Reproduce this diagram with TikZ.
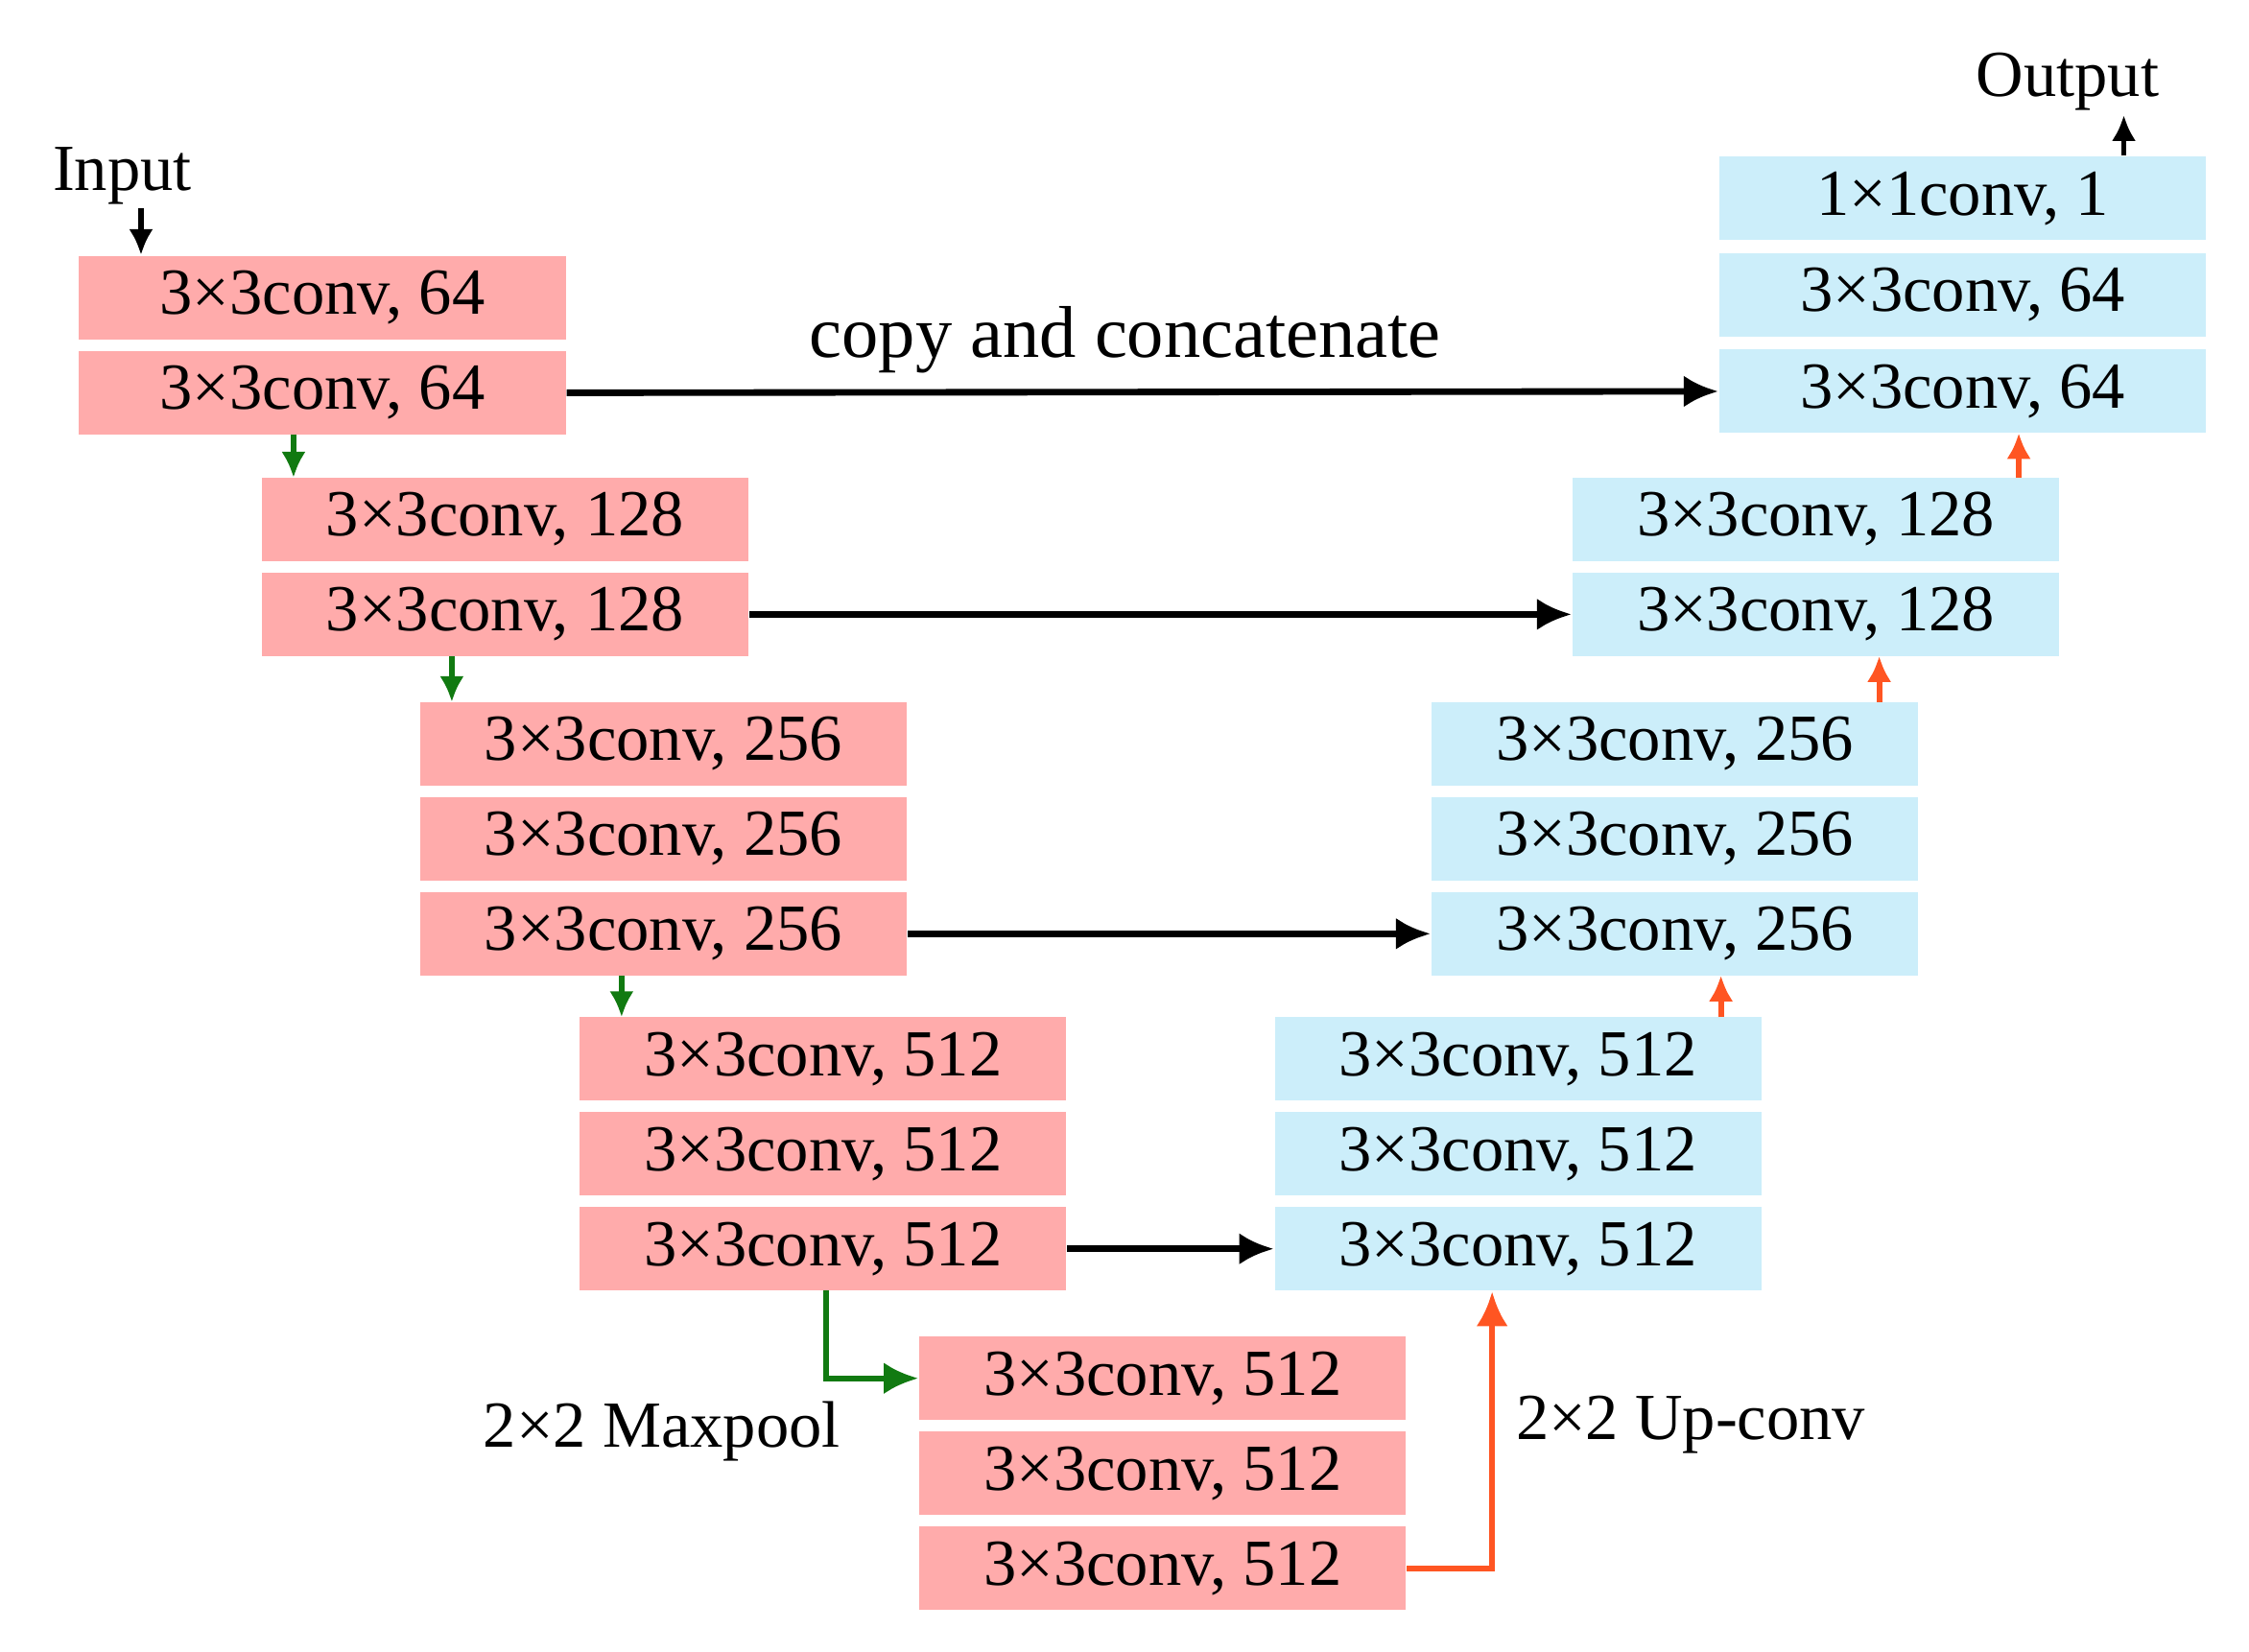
\documentclass[tikz,border=0pt]{standalone}
\usepackage{fontspec}
\setmainfont{Liberation Serif}
\usetikzlibrary{arrows.meta}
\definecolor{enc}{HTML}{FFABAB}
\definecolor{dec}{HTML}{CCEEFA}
\definecolor{grn}{HTML}{117A11}
\definecolor{org}{HTML}{FF5522}
\tikzset{
 blk/.style={minimum width=3.38cm,minimum height=0.58cm,inner sep=0pt,font=\fontsize{13}{15}\selectfont},
 ebox/.style={blk,fill=enc},
 dbox/.style={blk,fill=dec},
 arr/.style={line width=1.3pt,-{Latex[length=2.4mm,width=2.2mm]}},
 sarr/.style={line width=1.1pt,-{Latex[length=1.8mm,width=1.7mm]}},
 lbl/.style={font=\fontsize{13}{15}\selectfont,inner sep=0pt}
}
\begin{document}
\begin{tikzpicture}[x=0.01cm,y=-0.01cm]
\useasboundingbox (0,0) rectangle (1563,1148);
% encoder
\node[ebox] (e1a) at (224,207) {3×3conv, 64};
\node[ebox] (e1b) at (224,273) {3×3conv, 64};
\node[ebox] (e2a) at (351,361) {3×3conv, 128};
\node[ebox] (e2b) at (351,427) {3×3conv, 128};
\node[ebox] (e3a) at (461,517) {3×3conv, 256};
\node[ebox] (e3b) at (461,583) {3×3conv, 256};
\node[ebox] (e3c) at (461,649) {3×3conv, 256};
\node[ebox] (e4a) at (572,736) {3×3conv, 512};
\node[ebox] (e4b) at (572,802) {3×3conv, 512};
\node[ebox] (e4c) at (572,868) {3×3conv, 512};
\node[ebox] (e5a) at (808,958) {3×3conv, 512};
\node[ebox] (e5b) at (808,1024) {3×3conv, 512};
\node[ebox] (e5c) at (808,1090) {3×3conv, 512};
% decoder
\node[dbox] (d4a) at (1055,736) {3×3conv, 512};
\node[dbox] (d4b) at (1055,802) {3×3conv, 512};
\node[dbox] (d4c) at (1055,868) {3×3conv, 512};
\node[dbox] (d3a) at (1164,517) {3×3conv, 256};
\node[dbox] (d3b) at (1164,583) {3×3conv, 256};
\node[dbox] (d3c) at (1164,649) {3×3conv, 256};
\node[dbox] (d2a) at (1262,361) {3×3conv, 128};
\node[dbox] (d2b) at (1262,427) {3×3conv, 128};
\node[dbox] (d1o) at (1364,138) {1×1conv, 1};
\node[dbox] (d1a) at (1364,205) {3×3conv, 64};
\node[dbox] (d1b) at (1364,272) {3×3conv, 64};
% labels
\node[lbl] (in) at (85,122) {Input};
\node[lbl] (out) at (1437,57) {Output};
\node[lbl,font=\fontsize{14.5}{16}\selectfont] (cc) at (782,236) {copy and concatenate};
\node[lbl] (mp) at (460,995) {2×2 Maxpool};
\node[lbl] (uc) at (1175,990) {2×2 Up-conv};
% io arrows
\coordinate (inS) at (98,145);
\draw[sarr] (inS) -- (inS |- e1a.north);
\coordinate (outE) at (1476,80);
\draw[sarr] (outE |- d1o.north) -- (outE);
% copy
\draw[arr] (e1b.east) -- (d1b.west);
\draw[arr] (e2b.east) -- (d2b.west);
\draw[arr] (e3c.east) -- (d3c.west);
\draw[arr] (e4c.east) -- (d4c.west);
% maxpool
\draw[sarr,grn] (204,302) -- (204,332);
\draw[sarr,grn] (314,456) -- (314,488);
\draw[sarr,grn] (432,678) -- (432,707);
\draw[arr,grn,line width=1.2pt] (574,897) |- (e5a.west);
% upconv
\coordinate (up) at (1037,958);
\draw[arr,org,line width=1.2pt] (e5c.east) -| (up |- d4c.south);
\draw[sarr,org] (1196,707) -- (1196,678);
\draw[sarr,org] (1306,488) -- (1306,456);
\draw[sarr,org] (1403,332) -- (1403,301);
\end{tikzpicture}
\end{document}
